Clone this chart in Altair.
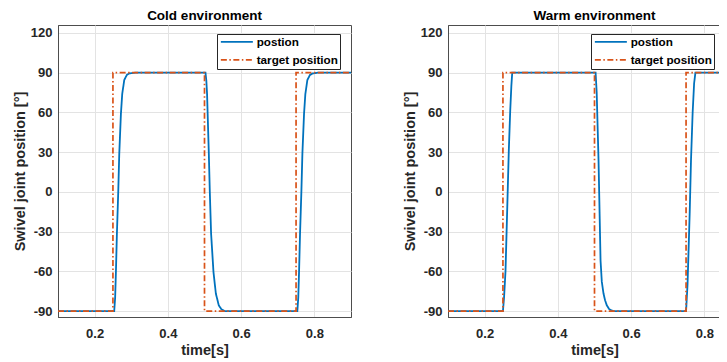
import altair as alt
import pandas as pd

# ---- data ----
cold_t = [0.100, 0.2535, 0.2560, 0.2582, 0.2609, 0.2645, 0.2673, 0.2718, 0.2754, 0.2809, 0.2880, 0.2950, 0.3100,
          0.5027, 0.5050, 0.5070, 0.5118, 0.5145, 0.5180, 0.5245, 0.5310, 0.5390, 0.5460, 0.5550,
          0.7535, 0.7560, 0.7582, 0.7609, 0.7645, 0.7673, 0.7718, 0.7754, 0.7809, 0.7880, 0.7950, 0.8100, 0.900]
cold_v = [-90, -90, -80, -60, -31, 0, 29, 59, 74, 84.5, 88.3, 89.4, 90,
          90, 84, 74, 29, 0, -31.5, -60.5, -76.8, -85.7, -88.6, -90,
          -90, -80, -60, -31, 0, 29, 59, 74, 84.5, 88.3, 89.4, 90, 90]

warm_t = [0.100, 0.2500, 0.2530, 0.2570, 0.2615, 0.2660, 0.2700, 0.2730, 0.2754,
          0.5030, 0.5060, 0.5110, 0.5165, 0.5200, 0.5246, 0.5290, 0.5336, 0.5400, 0.5500,
          0.7500, 0.7540, 0.7600, 0.7635, 0.7680, 0.7720, 0.7755, 0.900]
warm_v = [-90, -90, -80, -60, -15, 31, 62, 80, 90,
          90, 75, 24, -51.7, -68, -76.8, -82, -85.7, -88.5, -90,
          -90, -70, -15, 24, 60, 82, 90, 90]

target_t = [0.10, 0.25, 0.25, 0.50, 0.50, 0.75, 0.75, 0.90]
target_v = [-90, -90, 90, 90, -90, -90, 90, 90]

series_names = ["postion", "target position"]
panel_titles = ["Cold environment", "Warm environment"]
x_ticks = [0.2, 0.4, 0.6, 0.8]
y_ticks = [-90, -60, -30, 0, 30, 60, 90, 120]

FONT = "Liberation Sans"
TXT = "#262626"


def panel(title, t, v, legend_x):
    pos_df = pd.DataFrame({"time": t, "pos": v, "series": series_names[0], "ord": range(len(t))})
    tgt_df = pd.DataFrame({"time": target_t, "pos": target_v, "series": series_names[1],
                           "ord": range(len(target_t))})
    x = alt.X("time:Q", scale=alt.Scale(domain=[0.1, 0.9], nice=False, zero=False),
              axis=alt.Axis(values=x_ticks, format=".1f", title="time[s]",
                            labelPadding=10, titlePadding=3))
    y = alt.Y("pos:Q", scale=alt.Scale(domain=[-94.5, 126], nice=False, zero=False),
              axis=alt.Axis(values=y_ticks, title="Swivel joint position [°]",
                            labelExpr="replace(datum.label, '\u2212', '-')",
                            labelPadding=6, titlePadding=3))
    color = alt.Color("series:N", scale=alt.Scale(domain=series_names, range=["#0072BD", "#D95319"]),
                      legend=alt.Legend(title=None, orient="none", legendX=legend_x, legendY=9,
                                        strokeColor=TXT, fillColor="white", padding=2,
                                        labelFont=FONT, labelFontSize=11.7, labelFontWeight="bold",
                                        labelColor="#000000", symbolSize=64, symbolStrokeWidth=1.8,
                                        symbolType="M-1,0H7", rowPadding=5, labelOffset=26,
                                        cornerRadius=0))
    dash = alt.StrokeDash("series:N", scale=alt.Scale(domain=series_names, range=[[1, 0], [6, 2.5, 1.5, 2.5]]),
                          legend=None)
    l1 = alt.Chart(pos_df).mark_line(strokeWidth=1.8, clip=True).encode(
        x=x, y=y, color=color, strokeDash=dash, order="ord:Q")
    l2 = alt.Chart(tgt_df).mark_line(strokeWidth=1.7, clip=True).encode(
        x=x, y=y, color=color, strokeDash=dash, order="ord:Q")
    return alt.layer(l1, l2).properties(
        width=293, height=292,
        title=alt.TitleParams(title, fontSize=13.5, fontWeight="bold", font=FONT, color="#000000",
                              offset=2.5, anchor="middle"))


chart = alt.hconcat(
    panel(panel_titles[0], cold_t, cold_v, 159),
    panel(panel_titles[1], warm_t, warm_v, 143),
    spacing=49,
).resolve_legend(
    color="independent", strokeDash="independent"
).properties(
    autosize=alt.AutoSizeParams(type="none"),
    padding={"left": 50, "top": 17, "right": 661, "bottom": 329}
).configure_view(
    stroke="#4d4d4d", strokeWidth=1
).configure_axis(
    labelFont=FONT, labelFontSize=13, labelFontWeight="bold", labelColor=TXT,
    titleFont=FONT, titleFontSize=14.5, titleFontWeight="bold", titleColor=TXT,
    ticks=False, domainColor="#4d4d4d", domainWidth=1,
    gridColor="#e3e3e3", gridWidth=1,
)

chart.save("out.html", embed_options={"renderer": "svg", "actions": False})
